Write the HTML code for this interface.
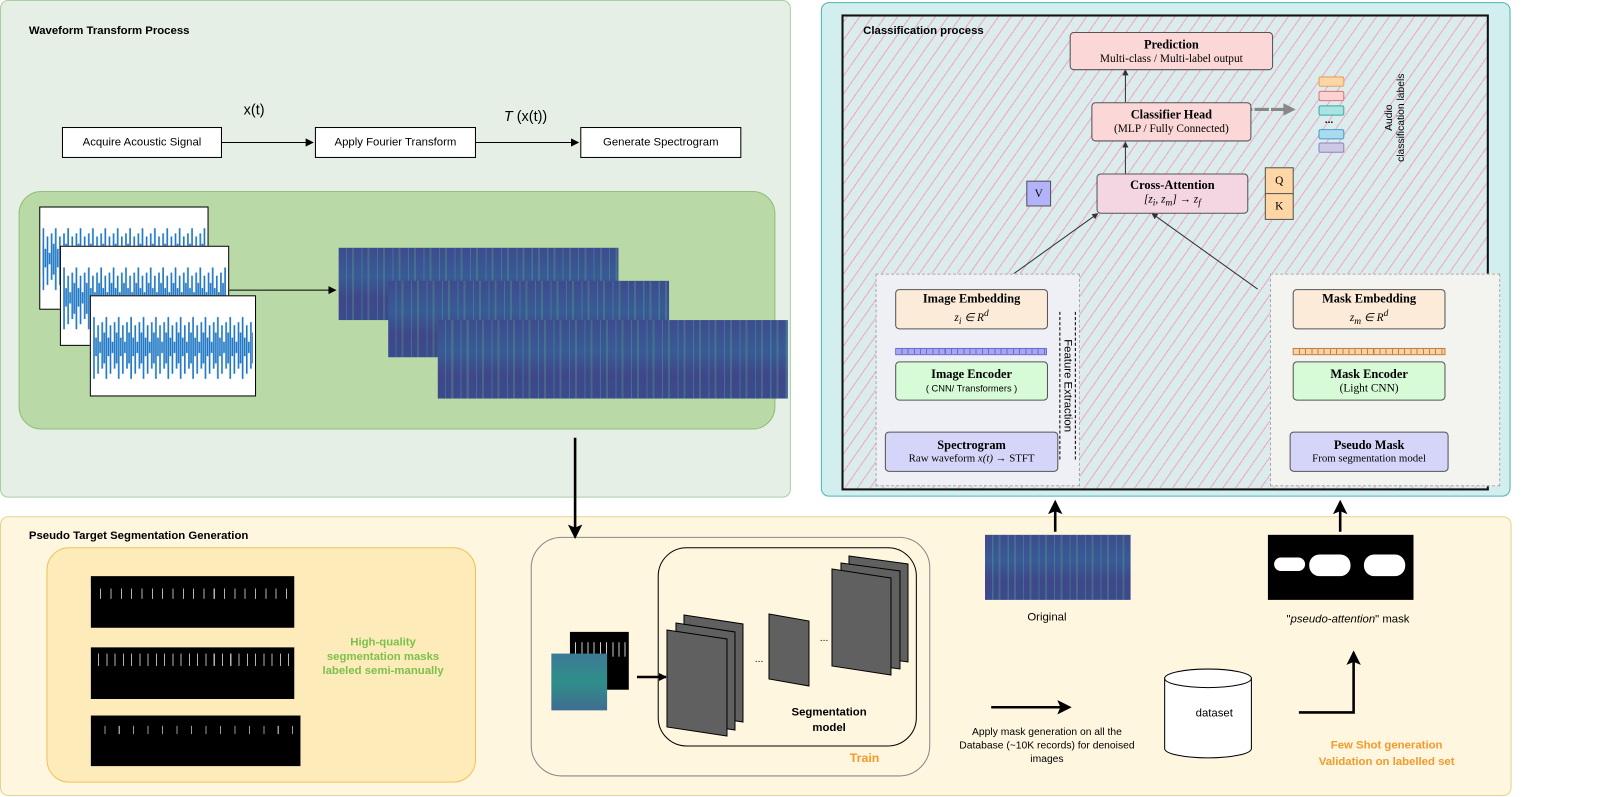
<!DOCTYPE html>
<html><head><meta charset="utf-8"><style>
*{margin:0;padding:0;box-sizing:border-box}
body{width:1619px;height:797px;background:#fff;position:relative;overflow:hidden;font-family:"Liberation Sans",sans-serif;}
#w{position:absolute;left:0;top:0;width:1568px;height:772px;transform:scale(1.0325);transform-origin:0 0}
.a{position:absolute}
.box{position:absolute;border:1px solid #000;background:#fff;font-size:11px;display:flex;align-items:center;justify-content:center}
.n{position:absolute;border:1.3px solid #555;border-radius:4px;font-family:"Liberation Serif",serif;text-align:center;font-size:11px;line-height:14px;display:flex;flex-direction:column;justify-content:center;white-space:nowrap}
.n b{font-size:12px}
.spec{position:absolute;background:
repeating-linear-gradient(90deg,rgba(60,190,150,0) 0 7px,rgba(60,190,150,.35) 7px 8px,rgba(60,190,150,0) 8px 13px,rgba(90,200,120,.25) 13px 15px),
linear-gradient(180deg,#3e4b8e,#3a5a96 40%,#40468a 70%,#3b4b8d);}
.wave{position:absolute;background:#fff;border:1px solid #000}
.mask{position:absolute;background:#000}
.t{position:absolute;white-space:nowrap}
</style></head><body><div id="w">
<div class="a" style="left:0;top:0;width:766px;height:482px;background:#e6efe5;border:1px solid #a8cfa0;border-radius:8px"></div>
<div class="a" style="left:0;top:500px;width:1464px;height:271px;background:#fff6e0;border:1px solid #e6d48e;border-radius:8px"></div>
<div class="a" style="left:795px;top:2px;width:668px;height:479px;background:#d3eeee;border:1px solid #4fb3b6;border-radius:8px"></div>
<div class="a" style="left:815px;top:14px;width:627px;height:461px;border:2px solid #111;background:repeating-linear-gradient(-55deg,#dcebeb 0 9px,#e9a9c9 9px 10px)"></div>

<div class="t" style="left:28px;top:24px;font-size:11px;font-weight:bold">Waveform Transform Process</div>
<div class="box" style="left:60px;top:123px;width:155px;height:30px">Acquire Acoustic Signal</div>
<div class="box" style="left:305px;top:123px;width:156px;height:30px">Apply Fourier Transform</div>
<div class="box" style="left:562px;top:123px;width:156px;height:30px">Generate Spectrogram</div>
<div class="t" style="left:236px;top:98px;font-size:14px">x(t)</div>
<div class="t" style="left:488px;top:104px;font-size:14px"><i>T</i> (x(t))</div>

<div class="a" style="left:18px;top:185px;width:733px;height:231px;background:#b9d9a6;border:1px solid #8fbf7a;border-radius:22px"></div>

<div class="t" style="left:28px;top:513px;font-size:11px;font-weight:bold">Pseudo Target Segmentation Generation</div>
<div class="a" style="left:45px;top:530px;width:416px;height:228px;background:#fdebb9;border:1px solid #eec45c;border-radius:22px"></div>
<div class="a" style="left:514px;top:520px;width:387px;height:232px;border:1px solid #888;border-radius:30px"></div>
<div class="a" style="left:637px;top:530px;width:251px;height:193px;border:1px solid #000;border-radius:28px"></div>

<svg class="a" style="left:0;top:0" width="1568" height="772">
<defs>
<marker id="ar" markerWidth="8" markerHeight="8" refX="7" refY="4" orient="auto" markerUnits="userSpaceOnUse"><path d="M0,0 L8,4 L0,8 Z" fill="#000"/></marker>
<marker id="ab" markerWidth="14" markerHeight="14" refX="12" refY="7" orient="auto" markerUnits="userSpaceOnUse"><path d="M0,0 L14,7 L0,14 L3,7 Z" fill="#000"/></marker>
<marker id="as" markerWidth="6" markerHeight="6" refX="5" refY="3" orient="auto" markerUnits="userSpaceOnUse"><path d="M0,0 L6,3 L0,6 Z" fill="#333"/></marker>
<pattern id="wv" width="12" height="100" patternUnits="userSpaceOnUse">
<path d="M1,35 V65 M3,20 V80 M5,40 V58 M7,28 V75 M9,44 V55 M11,25 V70" stroke="#1f77c4" stroke-width="1.6"/>
</pattern>
</defs>
<line x1="215" y1="138" x2="303" y2="138" stroke="#000" marker-end="url(#ar)"/>
<line x1="461" y1="138" x2="560" y2="138" stroke="#000" marker-end="url(#ar)"/>
<line x1="222" y1="281" x2="325" y2="281" stroke="#000" marker-end="url(#ar)"/>
<line x1="557" y1="424" x2="557" y2="520" stroke="#000" stroke-width="2.5" marker-end="url(#ab)"/>
<line x1="1022" y1="515" x2="1022" y2="486" stroke="#000" stroke-width="2.5" marker-end="url(#ab)"/>
<line x1="1298" y1="515" x2="1298" y2="486" stroke="#000" stroke-width="2.5" marker-end="url(#ab)"/>
<line x1="960" y1="685" x2="1036" y2="685" stroke="#000" stroke-width="2.5" marker-end="url(#ab)"/>
<polyline points="1258,690 1311,690 1311,632" fill="none" stroke="#000" stroke-width="2.5" marker-end="url(#ab)"/>
<line x1="1090" y1="99" x2="1090" y2="68" stroke="#333" marker-end="url(#as)"/>
<line x1="1090" y1="168" x2="1090" y2="138" stroke="#333" marker-end="url(#as)"/>
<line x1="961" y1="280" x2="1063" y2="207" stroke="#333" marker-end="url(#as)"/>
<line x1="1218" y1="280" x2="1116" y2="207" stroke="#333" marker-end="url(#as)"/>
<line x1="934" y1="418" x2="934" y2="388" stroke="#333" marker-end="url(#as)"/>
<line x1="934" y1="350" x2="934" y2="320" stroke="#333" marker-end="url(#as)"/>
<line x1="1325" y1="418" x2="1325" y2="388" stroke="#333" marker-end="url(#as)"/>
<line x1="1325" y1="350" x2="1325" y2="320" stroke="#333" marker-end="url(#as)"/>
<line x1="1183" y1="106" x2="1250" y2="106" stroke="#888" stroke-width="3" stroke-dasharray="14 2"/>
<path d="M1243,100 L1255,106 L1243,112 Z" fill="#888"/>
<path d="M1128,657 V725 A42,9 0 0 0 1212,725 V657" fill="#fff" stroke="#000"/>
<ellipse cx="1170" cy="657" rx="42" ry="9" fill="#fff" stroke="#000"/>
<g transform="scale(0.9685)">
<line x1="637" y1="677" x2="666" y2="677" stroke="#000" stroke-width="2.5" marker-end="url(#ar)"/>
<g fill="#606060" stroke="#000">
<polygon points="684,615 743,624 743,722 684,713"/>
<polygon points="676,623 735,632 735,730 676,721"/>
<polygon points="667,630 727,639 727,736 667,727"/>
<polygon points="769,614 809,621 809,686 769,679"/>
<polygon points="849,556 908,564 908,662 849,654"/>
<polygon points="841,563 900,571 900,669 841,661"/>
<polygon points="832,569 891,578 891,675 832,666"/>
</g>
</g>
</svg>

<div class="wave" style="left:38px;top:200px;width:164px;height:100px"><svg width="162" height="98"><rect x="2" y="0" width="158" height="98" fill="url(#wv)"/></svg></div>
<div class="wave" style="left:58px;top:238px;width:164px;height:97px"><svg width="162" height="95"><rect x="2" y="0" width="158" height="95" fill="url(#wv)"/></svg></div>
<div class="wave" style="left:87px;top:286px;width:161px;height:98px"><svg width="159" height="96"><rect x="2" y="0" width="155" height="96" fill="url(#wv)"/></svg></div>

<div class="spec" style="left:328px;top:240px;width:271px;height:70px"></div>
<div class="spec" style="left:376px;top:272px;width:272px;height:74px"></div>
<div class="spec" style="left:424px;top:310px;width:339px;height:76px"></div>

<div class="mask" style="left:88px;top:558px;width:197px;height:50px;background:#000 repeating-linear-gradient(90deg,transparent 0 9px,rgba(255,255,255,.7) 9px 10px) 0 12px/100% 10px no-repeat"></div>
<div class="mask" style="left:88px;top:627px;width:197px;height:50px;background:#000 repeating-linear-gradient(90deg,transparent 0 7px,rgba(255,255,255,.7) 7px 8px) 0 6px/100% 12px no-repeat"></div>
<div class="mask" style="left:88px;top:693px;width:203px;height:49px;background:#000 repeating-linear-gradient(90deg,transparent 0 13px,rgba(255,255,255,.6) 13px 14px) 0 10px/100% 8px no-repeat"></div>
<div class="t" style="left:305px;top:615px;width:132px;text-align:center;white-space:normal;color:#7cc04c;font-weight:bold;font-size:11px;line-height:14px">High-quality segmentation masks labeled semi-manually</div>

<div class="mask" style="left:552px;top:612px;width:57px;height:56px;background:#000 repeating-linear-gradient(90deg,transparent 0 5px,rgba(255,255,255,.8) 5px 6px) 0 10px/100% 14px no-repeat"></div>
<div class="spec" style="left:534px;top:633px;width:54px;height:55px;background:linear-gradient(180deg,#3d7a96,#2f8e8a 50%,#3f6d90)"></div>
<div class="t" style="left:748px;top:683px;width:110px;text-align:center;font-weight:bold;font-size:11px;line-height:15px">Segmentation<br>model</div>
<div class="t" style="left:731px;top:633px;font-size:10px">...</div>
<div class="t" style="left:794px;top:613px;font-size:10px">...</div>
<div class="t" style="left:823px;top:727px;color:#f39a2b;font-weight:bold;font-size:12px">Train</div>

<div class="spec" style="left:954px;top:518px;width:141px;height:63px"></div>
<div class="t" style="left:995px;top:592px;font-size:11px">Original</div>
<div class="mask" style="left:1228px;top:518px;width:141px;height:63px"><div style="position:absolute;left:6px;top:22px;width:30px;height:13px;background:#fff;border-radius:7px"></div><div style="position:absolute;left:40px;top:19px;width:40px;height:21px;background:#fff;border-radius:10px"></div><div style="position:absolute;left:93px;top:19px;width:40px;height:21px;background:#fff;border-radius:10px"></div></div>
<div class="t" style="left:1246px;top:594px;font-size:11px">"<i>pseudo-attention</i>" mask</div>
<div class="t" style="left:928px;top:703px;width:172px;text-align:center;white-space:normal;font-size:10px;line-height:13px">Apply mask generation on all the Database (~10K records) for denoised images</div>
<div class="t" style="left:1158px;top:685px;font-size:11px">dataset</div>
<div class="t" style="left:1272px;top:714px;width:142px;text-align:center;color:#f39a2b;font-weight:bold;font-size:11px;line-height:16px">Few Shot generation<br>Validation on labelled set</div>

<div class="t" style="left:836px;top:24px;font-size:11px;font-weight:bold">Classification process</div>
<div class="n" style="left:1036px;top:31px;width:197px;height:37px;background:#fcd7d8"><b>Prediction</b>Multi-class / Multi-label output</div>
<div class="n" style="left:1057px;top:99px;width:155px;height:38px;background:#fcd7d8"><b>Classifier Head</b>(MLP / Fully Connected)</div>
<div class="n" style="left:1062px;top:168px;width:147px;height:39px;background:#f3d6e1"><b>Cross-Attention</b><i>[z<sub>i</sub>, z<sub>m</sub>] → z<sub>f</sub></i></div>
<div class="n" style="left:994px;top:175px;width:24px;height:25px;background:#b3b3f9;border-radius:0">V</div>
<div class="n" style="left:1225px;top:162px;width:28px;height:26px;background:#ffd6a5;border-radius:0">Q</div>
<div class="n" style="left:1225px;top:187px;width:28px;height:26px;background:#ffd6a5;border-radius:0">K</div>

<div class="a" style="left:848px;top:265px;width:198px;height:206px;border:1px dashed #aaa;background:#eef0f5"></div>
<div class="a" style="left:1230px;top:265px;width:223px;height:206px;border:1px dashed #aaa;background:#f3f3f0"></div>
<div class="n" style="left:867px;top:280px;width:148px;height:39px;background:#fdebd9"><b>Image Embedding</b><i>z<sub>i</sub> ∈ R<sup>d</sup></i></div>
<div class="a" style="left:867px;top:337px;width:147px;height:7px;border:1px solid #6a6ad0;background:repeating-linear-gradient(90deg,#a6a6f2 0 5px,#6a6ad0 5px 6px)"></div>
<div class="n" style="left:867px;top:350px;width:148px;height:38px;background:#d6fbd6"><b>Image Encoder</b><span style="font-family:'Liberation Sans';font-size:9px">( CNN/ Transformers )</span></div>
<div class="n" style="left:857px;top:418px;width:168px;height:39px;background:#d5d5fa;font-size:10.5px"><b>Spectrogram</b><span>Raw waveform <i>x(t)</i> → STFT</span></div>

<div class="n" style="left:1252px;top:280px;width:148px;height:39px;background:#fdebd9"><b>Mask Embedding</b><i>z<sub>m</sub> ∈ R<sup>d</sup></i></div>
<div class="a" style="left:1252px;top:337px;width:148px;height:7px;border:1px solid #c08040;background:repeating-linear-gradient(90deg,#fbd1a4 0 5px,#c08040 5px 6px)"></div>
<div class="n" style="left:1252px;top:350px;width:148px;height:38px;background:#d6fbd6"><b>Mask Encoder</b>(Light CNN)</div>
<div class="n" style="left:1249px;top:418px;width:154px;height:39px;background:#d5d5fa;font-size:10.5px"><b>Pseudo Mask</b>From segmentation model</div>

<div class="a" style="left:1026px;top:302px;width:16px;height:143px;border:1px dashed #000;border-width:0 1px;border-style:dashed"></div>
<div class="t" style="left:1034px;top:302px;font-size:11px;transform:rotate(90deg);transform-origin:0 0;width:143px;text-align:center;margin-left:6px">Feature Extraction</div>

<div class="a" style="left:1277px;top:74px;width:25px;height:10px;background:#fdd6a8;border:1px solid #e5a35a;border-radius:2px"></div>
<div class="a" style="left:1277px;top:88px;width:25px;height:10px;background:#fcd2d2;border:1px solid #d87474;border-radius:2px"></div>
<div class="a" style="left:1277px;top:102px;width:25px;height:10px;background:#a9e4e2;border:1px solid #3aa8a4;border-radius:2px"></div>
<div class="t" style="left:1283px;top:111px;font-size:10px;font-weight:bold">...</div>
<div class="a" style="left:1277px;top:125px;width:25px;height:10px;background:#a8daf0;border:1px solid #4a9cc8;border-radius:2px"></div>
<div class="a" style="left:1277px;top:138px;width:25px;height:10px;background:#ccc8e6;border:1px solid #8a84b8;border-radius:2px"></div>
<div class="t" style="left:1340px;top:160px;font-size:10px;line-height:12px;transform:rotate(-90deg);transform-origin:0 0;text-align:center;width:92px">Audio<br>classification labels</div>
</div></body></html>
